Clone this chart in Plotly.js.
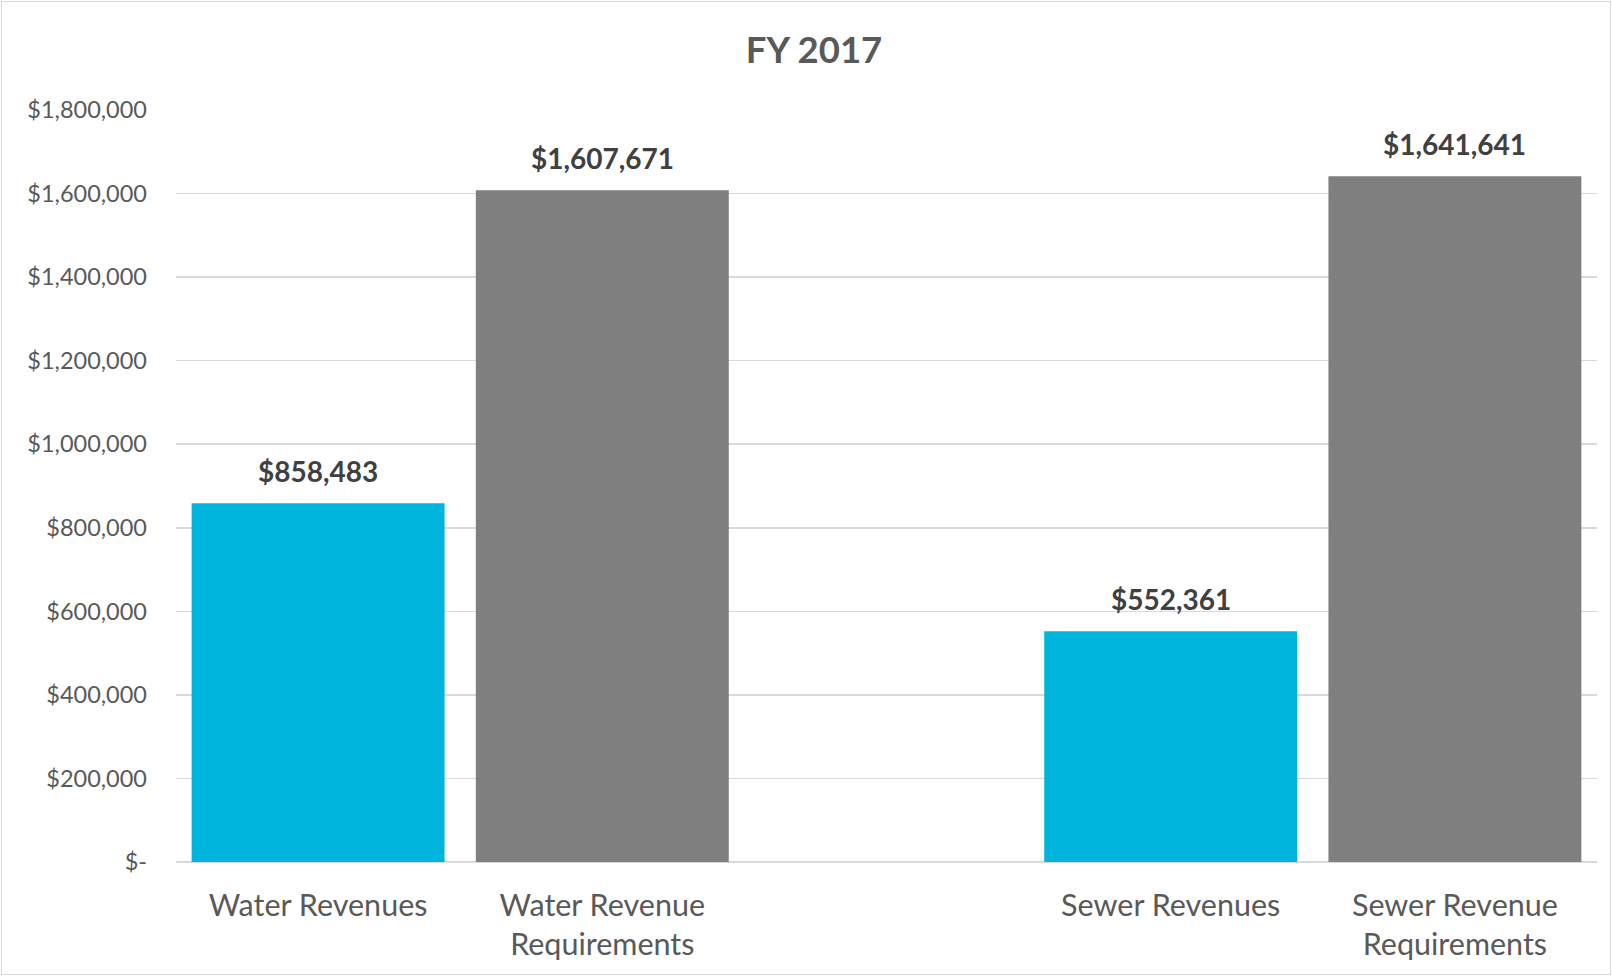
<!DOCTYPE html>
<html>
<head>
<meta charset="utf-8">
<script src="https://cdn.plot.ly/plotly-3.0.1.min.js"></script>
<style>
html,body{margin:0;padding:0;background:#fff;}
#chart{width:1612px;height:976px;position:relative;}
#frame{position:absolute;left:1px;top:1px;width:1608px;height:972px;border:1.5px solid #d9d9d9;pointer-events:none;}
</style>
</head>
<body>
<div id="chart"></div>
<div id="frame"></div>
<script>
const categories = ["Water Revenues", "Water Revenue<br>Requirements", " ", "Sewer Revenues", "Sewer Revenue<br>Requirements"];
const values = [858483, 1607671, null, 552361, 1641641];
const colors = ["#00B5DD", "#7F7F7F", "#7F7F7F", "#00B5DD", "#7F7F7F"];
const labels = ["$858,483", "$1,607,671", "", "$552,361", "$1,641,641"];
const tickVals = [0, 200000, 400000, 600000, 800000, 1000000, 1200000, 1400000, 1600000, 1800000];
const tickText = ["$-", "$200,000", "$400,000", "$600,000", "$800,000", "$1,000,000", "$1,200,000", "$1,400,000", "$1,600,000", "$1,800,000"];
const titleText = "FY 2017";

const FONT = "Lato, 'Open Sans', sans-serif";

const trace = {
  type: "bar",
  x: categories,
  y: values,
  marker: {color: colors},
  hoverinfo: "skip"
};

const annotations = [];
categories.forEach((c, i) => {
  if (values[i] == null) return;
  annotations.push({
    x: c, y: values[i], xref: "x", yref: "y",
    text: "<b>" + labels[i] + "</b>",
    showarrow: false, yanchor: "middle", yshift: 32,
    font: {family: FONT, size: 28, color: "#404040"}
  });
});

const layout = {
  width: 1612, height: 976,
  paper_bgcolor: "#ffffff", plot_bgcolor: "#ffffff",
  margin: {l: 176, r: 15, t: 110, b: 114},
  title: {text: "<b>" + titleText + "</b>", x: 0.505, xref: "container", xanchor: "center", y: 0.949, yanchor: "middle",
          font: {family: FONT, size: 36.5, color: "#595959"}},
  bargap: 0.11,
  showlegend: false,
  xaxis: {
    type: "category",
    categoryorder: "array", categoryarray: categories,
    showgrid: false, zeroline: false, showline: false,
    ticks: "", ticklabelstandoff: 22,
    tickfont: {family: FONT, size: 30.5, color: "#595959"},
    fixedrange: true
  },
  yaxis: {
    range: [0, 1800000],
    tickvals: tickVals, ticktext: tickText,
    showgrid: true, gridcolor: "#d9d9d9", gridwidth: 1.5,
    zeroline: true, zerolinecolor: "#d9d9d9", zerolinewidth: 2,
    showline: false, ticks: "", ticklabelstandoff: 28,
    tickfont: {family: FONT, size: 23.5, color: "#595959"},
    fixedrange: true
  },
  annotations: annotations
};

Plotly.newPlot("chart", [trace], layout, {displayModeBar: false, staticPlot: true});
</script>
</body>
</html>
